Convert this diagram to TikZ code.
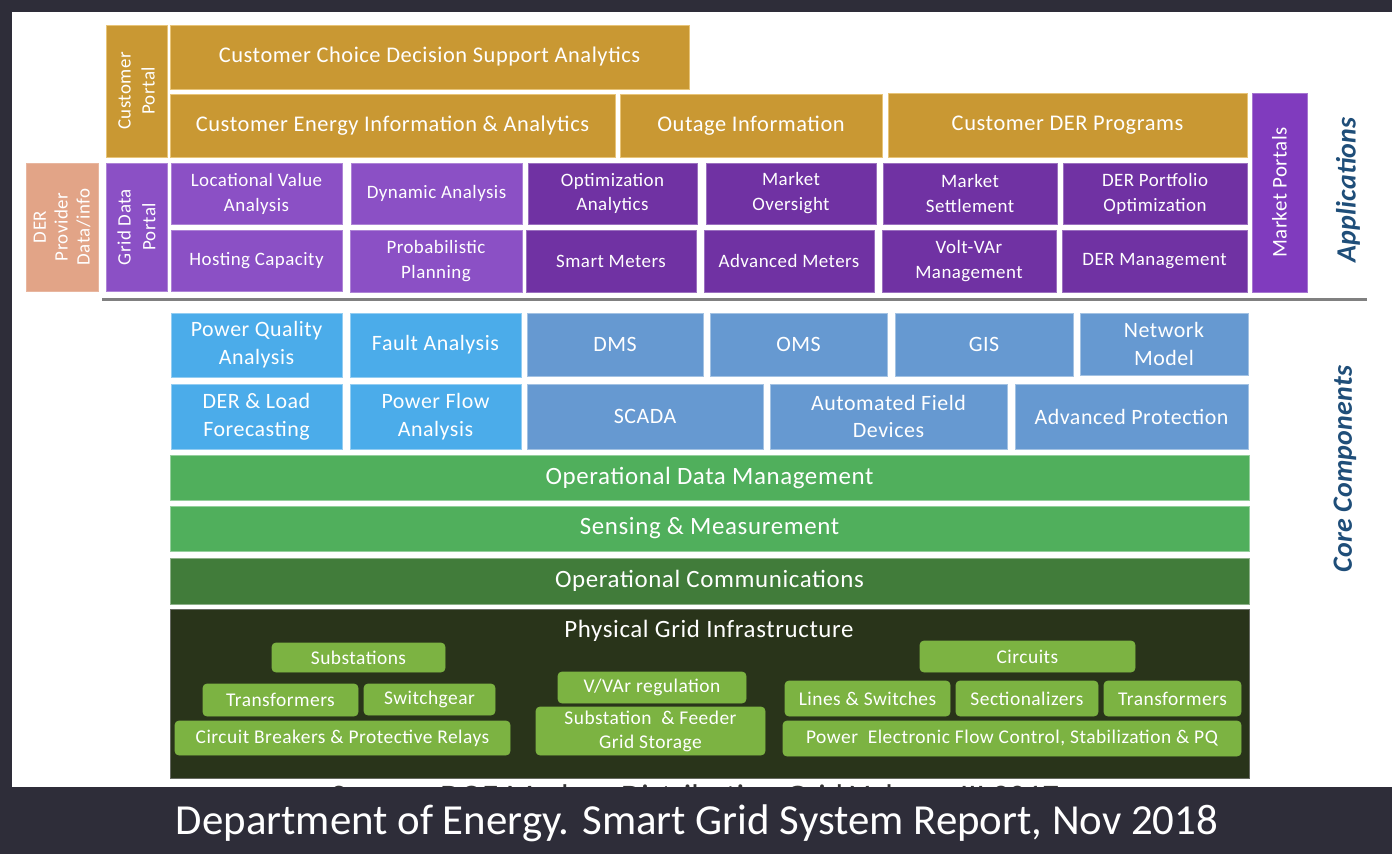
\documentclass[tikz,border=0pt]{standalone}
\usepackage{fontspec}
\setmainfont{Carlito}[LetterSpace=2.5]
\newfontfamily\capfont{Carlito}
\newfontfamily\lblfont{Carlito}[LetterSpace=1]
\definecolor{cDark}{RGB}{46,45,57}
\definecolor{cGold}{RGB}{201,152,51}
\definecolor{cGoldB}{RGB}{232,196,120}
\definecolor{cSalmon}{RGB}{226,164,135}
\definecolor{cPurL}{RGB}{139,80,197}
\definecolor{cPurD}{RGB}{112,50,163}
\definecolor{cPurM}{RGB}{128,59,190}
\definecolor{cBlueL}{RGB}{75,172,234}
\definecolor{cBlueS}{RGB}{102,153,209}
\definecolor{cGreenA}{RGB}{80,175,92}
\definecolor{cGreenB}{RGB}{65,124,58}
\definecolor{cPhys}{RGB}{41,52,26}
\definecolor{cLeaf}{RGB}{124,179,66}
\definecolor{cLabel}{RGB}{31,78,121}
\definecolor{cRule}{RGB}{128,128,128}
\newcommand\bx[7]{\node[#6, minimum width={(#4-#2)*1bp}, minimum height={(#5-#3)*1bp}] (#1) at ({(#2+#4)/2},{(#3+#5)/2}) {#7};}
\newcommand\vbx[7]{\node[#6, rotate=90, minimum width={(#5-#3)*1bp}, minimum height={(#4-#2)*1bp}] (#1) at ({(#2+#4)/2},{(#3+#5)/2}) {#7};}
\tikzset{
  base/.style={inner sep=0pt, outer sep=0pt, align=center, text=white, line width=0.8bp},
  gold/.style={base, fill=cGold, draw=cGoldB, font=\fontsize{22.5}{28}\selectfont},
  goldv/.style={base, fill=cGold, draw=cGoldB, font=\fontsize{19}{24}\selectfont},
  salmon/.style={base, fill=cSalmon, draw=cSalmon!80!white, font=\fontsize{19}{22}\selectfont},
  purl/.style={base, fill=cPurL, draw=cPurL!70!white, font=\fontsize{19}{25}\selectfont},
  purd/.style={base, fill=cPurD, draw=cPurD!70!white, font=\fontsize{19}{25}\selectfont},
  purm/.style={base, fill=cPurM, draw=cPurM!70!white, font=\fontsize{21}{25}\selectfont},
  bluel/.style={base, fill=cBlueL, draw=cBlueL!60!white, font=\fontsize{22}{28}\selectfont},
  blues/.style={base, fill=cBlueS, draw=cBlueS!60!white, font=\fontsize{22}{28}\selectfont},
  bargreen/.style={base, fill=cGreenA, draw=cGreenA!60!white, font=\fontsize{25}{28}\selectfont},
  bardark/.style={base, fill=cGreenB, draw=cGreenB!60!white, font=\fontsize{25}{28}\selectfont},
  phys/.style={base, fill=cPhys, draw=cRule!70!cPhys},
  leaf/.style={base, fill=cLeaf, draw=cLeaf, rounded corners=4bp, font=\fontsize{19.5}{24}\selectfont},
  sidelbl/.style={inner sep=0pt, text=cLabel, rotate=90, font=\lblfont\fontsize{28}{32}\selectfont\bfseries\itshape},
}
\begin{document}
\begin{tikzpicture}[x=1bp,y=-1bp]
\useasboundingbox (0,0) rectangle (1392,854);
\fill[cDark] (0,0) rectangle (1392,854);
\fill[white] (12,12) rectangle (1392,787);
% clipped source line (only its top shows above the caption band)
\begin{scope}
\clip (12,12) rectangle (1392,787);
\node[anchor=base, inner sep=0pt, text=black!80, font=\capfont\fontsize{33}{36}\selectfont] (src) at (695,807) {Source: DOE Modern Distribution Grid Volume III 2017};
\end{scope}
% gold row
\vbx{cport}{106}{25}{167}{157}{goldv}{Customer\\Portal}
\bx{ccd}{170}{25}{689}{89}{gold}{Customer Choice Decision Support Analytics}
\bx{cei}{170}{94}{615}{157}{gold}{Customer Energy Information \& Analytics}
\bx{outage}{620}{94}{882}{157}{gold}{Outage Information}
\bx{cder}{888}{93}{1247}{157}{gold}{Customer DER Programs}
% purple rows
\vbx{mport}{1252}{93}{1307}{292}{purm}{Market Portals}
\vbx{derp}{26}{163}{98}{291}{salmon}{DER\\Provider\\Data/info}
\vbx{gdp}{106}{163}{167}{291}{purl}{Grid Data\\Portal}
\bx{lva}{171}{163}{342}{224}{purl}{Locational Value\\Analysis}
\bx{hc}{171}{230}{342}{291}{purl}{Hosting Capacity}
\bx{dyn}{351}{163}{522}{224}{purl}{Dynamic Analysis}
\bx{prob}{350}{230}{522}{292}{purl}{Probabilistic\\Planning}
\bx{opt}{528}{163}{697}{224}{purd}{Optimization\\Analytics}
\bx{sm}{526}{230}{696}{292}{purd}{Smart Meters}
\bx{mo}{706}{163}{876}{224}{purd}{Market\\Oversight}
\bx{am}{704}{230}{874}{292}{purd}{Advanced Meters}
\bx{ms}{883}{163}{1057}{224}{purd}{Market\\Settlement}
\bx{vv}{882}{230}{1056}{292}{purd}{Volt-VAr\\Management}
\bx{dpo}{1063}{163}{1247}{224}{purd}{DER Portfolio\\Optimization}
\bx{dm}{1062}{230}{1247}{292}{purd}{DER Management}
% separator
\coordinate (ruleL) at (102,299);
\coordinate (ruleR) at (1367,299);
\draw[cRule, line width=3bp] (ruleL) -- (ruleR);
\node[sidelbl] (apps) at (1348,190) {Applications};
\node[sidelbl] (core) at (1345,469) {Core Components};
% blue rows
\bx{pqa}{171}{313}{342}{377}{bluel}{Power Quality\\Analysis}
\bx{fa}{350}{313}{521}{377}{bluel}{Fault Analysis}
\bx{dms}{527}{313}{703}{376}{blues}{DMS}
\bx{oms}{710}{313}{887}{376}{blues}{OMS}
\bx{gis}{895}{313}{1073}{376}{blues}{GIS}
\bx{nm}{1080}{313}{1248}{375}{blues}{Network\\Model}
\bx{dlf}{171}{384}{342}{449}{bluel}{DER \& Load\\Forecasting}
\bx{pfa}{350}{384}{521}{449}{bluel}{Power Flow\\Analysis}
\bx{scada}{527}{384}{763}{449}{blues}{SCADA}
\bx{afd}{770}{384}{1007}{449}{blues}{Automated Field\\Devices}
\bx{ap}{1015}{384}{1248}{449}{blues}{Advanced Protection}
% green bars
\bx{odm}{170}{455}{1249}{500}{bargreen}{Operational Data Management}
\bx{sam}{170}{506}{1249}{551}{bargreen}{Sensing \& Measurement}
\bx{oc}{170}{558}{1249}{604}{bardark}{Operational Communications}
\bx{pgi}{170}{609}{1249}{778}{phys}{}
\node[base, font=\fontsize{25}{28}\selectfont] (pgit) at (709,631) {Physical Grid Infrastructure};
% leaves
\bx{sub}{272}{643}{445}{672}{leaf}{Substations}
\bx{tr1}{203}{684}{358}{716}{leaf}{Transformers}
\bx{swg}{364}{684}{495}{715}{leaf}{Switchgear}
\bx{cbr}{175}{721}{510}{755}{leaf}{Circuit Breakers \& Protective Relays}
\bx{vvr}{558}{672}{746}{703}{leaf}{V/VAr regulation}
\bx{sfg}{536}{707}{765}{755}{leaf}{Substation \ \& Feeder\\Grid Storage}
\bx{circ}{920}{641}{1135}{672}{leaf}{Circuits}
\bx{lns}{785}{681}{950}{716}{leaf}{Lines \& Switches}
\bx{sec}{956}{681}{1098}{716}{leaf}{Sectionalizers}
\bx{tr2}{1104}{681}{1241}{716}{leaf}{Transformers}
\bx{pef}{783}{721}{1241}{756}{leaf}{Power \ Electronic Flow Control, Stabilization \& PQ}
% caption band drawn over the source line
\fill[cDark] (0,787) rectangle (1392,854);
\node[text=white, inner sep=0pt, font=\capfont\fontsize{43}{48}\selectfont] (cap) at (697,823) {Department of Energy. Smart Grid System Report, Nov 2018};
\end{tikzpicture}
\end{document}
